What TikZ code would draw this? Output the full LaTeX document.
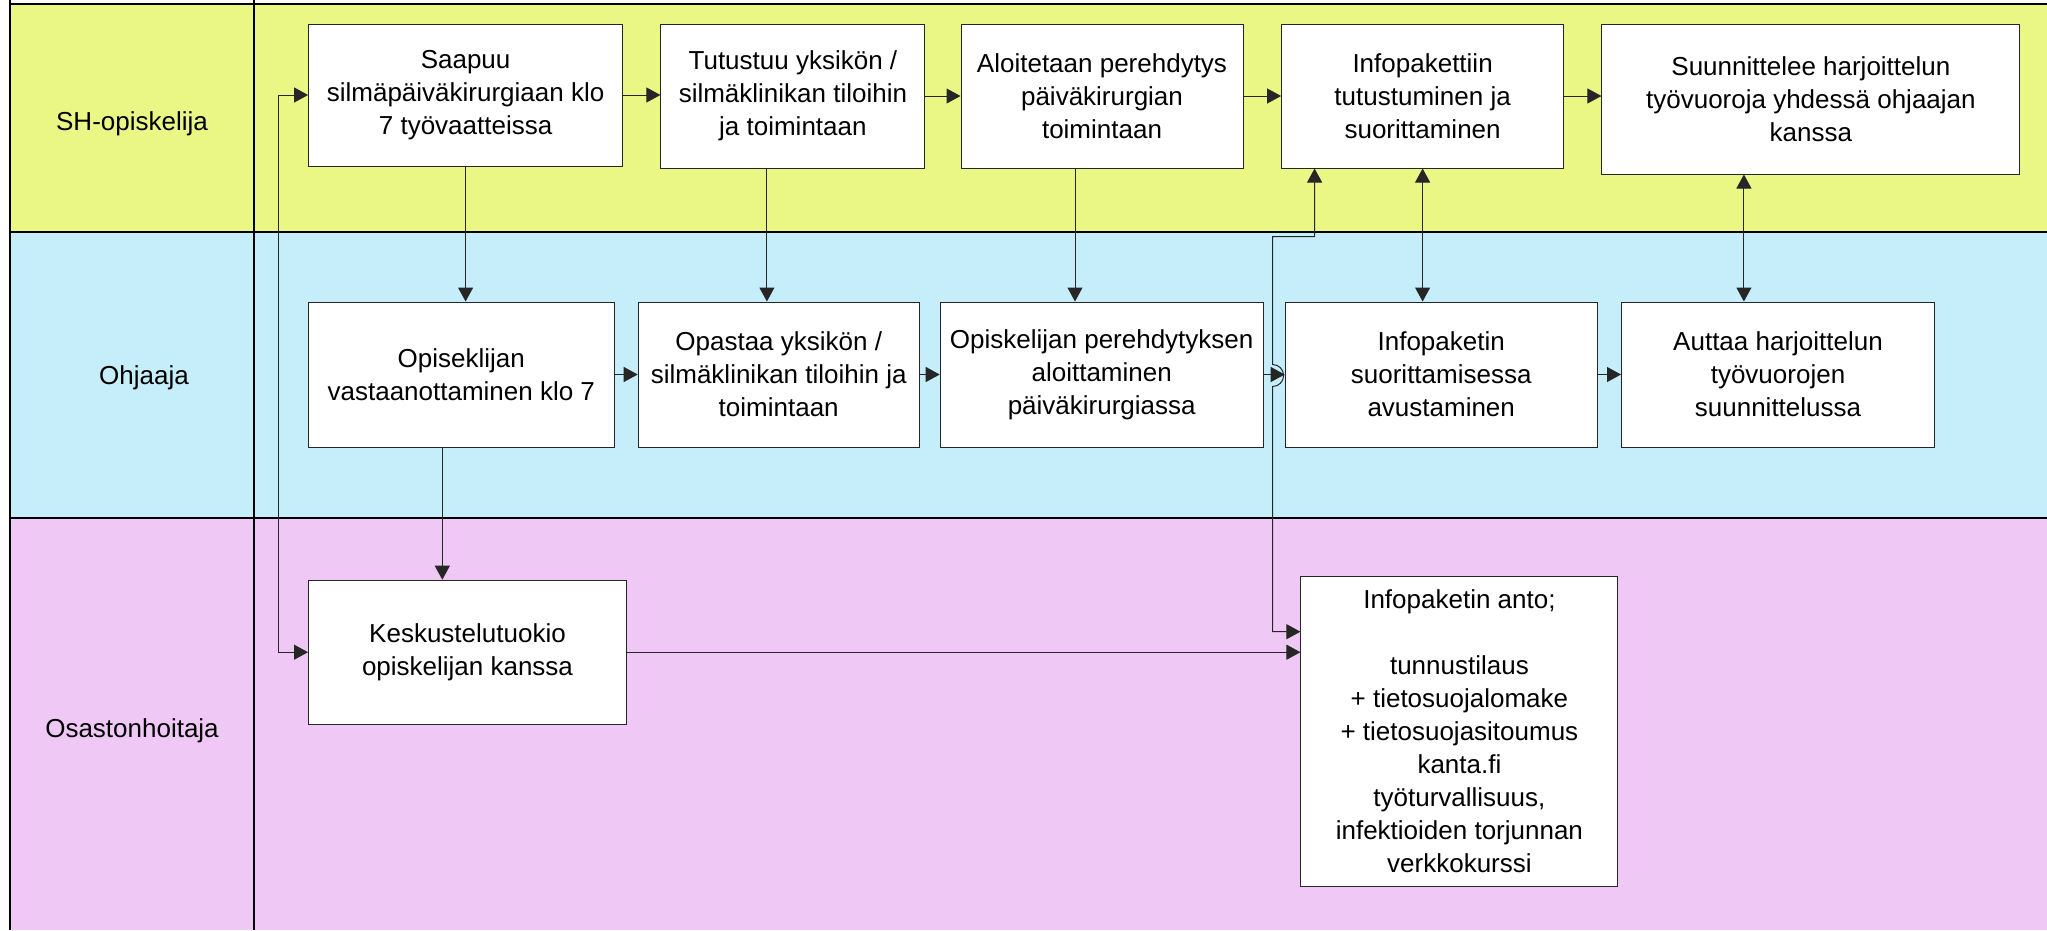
\documentclass[tikz,border=0pt]{standalone}
\usepackage{fontspec}
\setmainfont{Liberation Sans}
\usetikzlibrary{arrows.meta}
\definecolor{shyellow}{RGB}{234,247,133}
\definecolor{ohblue}{RGB}{197,237,250}
\definecolor{ospink}{RGB}{240,200,246}
\begin{document}
\begin{tikzpicture}[
        x=1pt, y=-1pt,
        font=\fontsize{26}{33}\selectfont,
        >={Triangle[length=14pt, width=15pt]},
        box/.style={draw=black!85, line width=1pt, fill=white, align=center, inner sep=2pt},
        forward/.style={->, line width=1pt, draw=black!85},
        both/.style={<->, line width=1pt, draw=black!85},
        border/.style={line width=2pt}
    ]
        \useasboundingbox (0,0) rectangle (2047,930);
        \fill[shyellow] (10,4) rectangle (2047,231.7);
        \fill[ohblue] (10,231.7) rectangle (2047,518.3);
        \fill[ospink] (10,518.3) rectangle (2047,930);
        \draw[border] (10,4) -- (2047,4);
        \draw[border] (10,231.7) -- (2047,231.7);
        \draw[border] (10,518.3) -- (2047,518.3);
        \draw[border] (10,0) -- (10,930);
        \draw[border] (254,0) -- (254,930);
        \node (sh) at (132,124) {SH-opiskelija};
        \node (oh) at (144,378) {Ohjaaja};
        \node (os) at (132,731) {Osastonhoitaja};
        \node[box, minimum width=314pt, minimum height=142pt] (s1) at (465.6,95) {Saapuu\\silmäpäiväkirurgiaan klo\\7 työvaatteissa};
        \node[box, minimum width=264pt, minimum height=144pt] (s2) at (792.9,96) {Tutustuu yksikön /\\silmäklinikan tiloihin\\ja toimintaan};
        \node[box, minimum width=282pt, minimum height=144pt] (s3) at (1102,96) {Aloitetaan perehdytys\\päiväkirurgian\\toimintaan};
        \node[box, minimum width=282pt, minimum height=144pt] (s4) at (1422.6,96) {Infopakettiin\\tutustuminen ja\\suorittaminen};
        \node[box, minimum width=418pt, minimum height=150pt] (s5) at (1810.9,99) {Suunnittelee harjoittelun\\työvuoroja yhdessä ohjaajan\\kanssa};
        \node[box, minimum width=306pt, minimum height=145pt] (o1) at (461.3,374.5) {Opiseklijan\\vastaanottaminen klo 7};
        \node[box, minimum width=281pt, minimum height=145pt] (o2) at (778.7,374.5) {Opastaa yksikön /\\silmäklinikan tiloihin ja\\toimintaan};
        \node[box, minimum width=323pt, minimum height=145pt] (o3) at (1101.7,374.5) {Opiskelijan perehdytyksen\\aloittaminen\\päiväkirurgiassa};
        \node[box, minimum width=312pt, minimum height=145pt] (o4) at (1441.2,374.5) {Infopaketin\\suorittamisessa\\avustaminen};
        \node[box, minimum width=313pt, minimum height=145pt] (o5) at (1778,374.5) {Auttaa harjoittelun\\työvuorojen\\suunnittelussa};
        \node[box, minimum width=318pt, minimum height=144pt] (k) at (467.5,652.2) {Keskustelutuokio\\opiskelijan kanssa};
        \node[box, minimum width=317pt, minimum height=310pt] (a) at (1459.4,731.2) {Infopaketin anto;\\[33pt]tunnustilaus\\+ tietosuojalomake\\+ tietosuojasitoumus\\kanta.fi\\työturvallisuus,\\infektioiden torjunnan\\verkkokurssi};
        \draw[forward] (s1.east) -- (s1.east -| s2.west);
        \draw[forward] (s2.east) -- (s2.east -| s3.west);
        \draw[forward] (s3.east) -- (s3.east -| s4.west);
        \draw[forward] (s4.east) -- (s4.east -| s5.west);
        \draw[forward] (s1.south) -- (s1.south |- o1.north);
        \draw[forward] ([xshift=-26pt]s2.south) -- ([xshift=-26pt]s2.south |- o2.north);
        \draw[forward] ([xshift=-27pt]s3.south) -- ([xshift=-27pt]s3.south |- o3.north);
        \draw[both] (s4.south) -- (s4.south |- o4.north);
        \draw[both] ([xshift=-67pt]s5.south) -- ([xshift=-67pt]s5.south |- o5.north);
        \draw[forward] (o1.east) -- (o1.east -| o2.west);
        \draw[forward] (o2.east) -- (o2.east -| o3.west);
        \draw[forward] (o3.east) -- (o3.east -| o4.west);
        \draw[forward] (o4.east) -- (o4.east -| o5.west);
        \draw[forward] ([xshift=-19pt]o1.south) -- ([xshift=-19pt]o1.south |- k.north);
        \draw[forward] (k.east) -- (k.east -| a.west);
        \draw[both] (s1.west) -- ++(-30,0) |- (k.west);
        \draw[both] ([xshift=33.5pt]s4.south west) -- ++(0,68) -- ++(-42,0) -- ++(0,128)
            arc[start angle=90, end angle=-90, radius=11pt] |- ([yshift=-56pt]a.north west);
    \end{tikzpicture}
\end{document}
